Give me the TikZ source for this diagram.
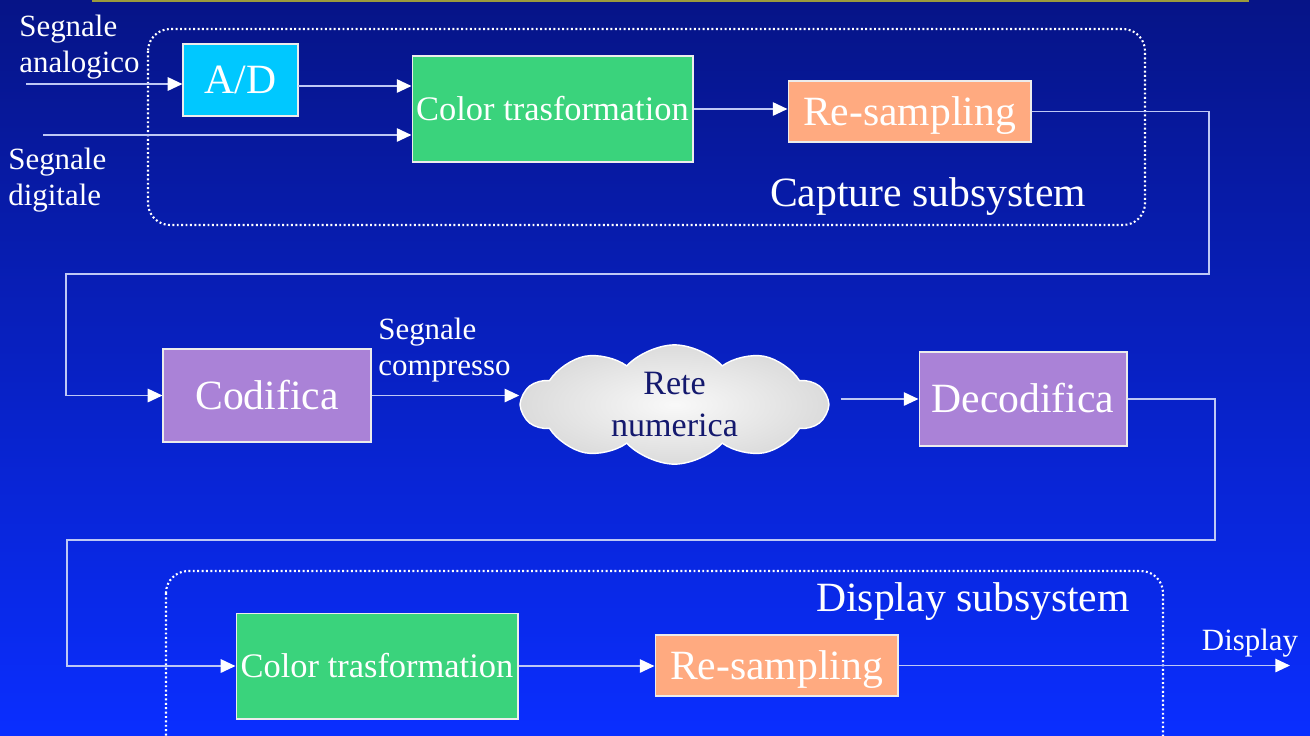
\documentclass[tikz,border=0pt]{standalone}
\usepackage{fontspec}
\setmainfont{Liberation Serif}
\usetikzlibrary{arrows.meta, calc, positioning, shapes.symbols}

\definecolor{sfondoalto}{RGB}{6,20,135}
\definecolor{sfondobasso}{RGB}{10,46,255}
\definecolor{gialla}{RGB}{155,155,60}
\definecolor{ciano}{RGB}{0,200,255}
\definecolor{verde}{RGB}{58,211,124}
\definecolor{salmone}{RGB}{255,170,128}
\definecolor{viola}{RGB}{170,130,215}
\definecolor{linea}{RGB}{190,200,245}
\definecolor{blunotte}{RGB}{20,25,110}

\begin{document}
\begin{tikzpicture}[x=0.02cm, y=-0.02cm,
    blocco/.style={draw=white!85!gray, line width=0.6pt, text=white, inner sep=0pt, text height=15.6pt, text depth=0pt, font=\fontsize{23.7}{28}\selectfont},
    piccolo/.style={text height=12.9pt, font=\fontsize{19.6}{23}\selectfont},
    freccia/.style={draw=linea, line width=1.1pt, -{Triangle[length=8.4pt,width=7.6pt,color=white]}},
    sottosist/.style={draw=white, line width=1.2pt, dash pattern=on 1.1pt off 1.4pt, rounded corners=0.44cm},
    titolo/.style={text=white, inner sep=0pt, text height=15.6pt, text depth=0pt, font=\fontsize{23.7}{28}\selectfont},
    etichetta/.style={text=white, inner sep=0pt, align=left, font=\fontsize{17.6}{20.5}\selectfont}]

    \clip (0,0) rectangle (1310,735);
    \shade[top color=sfondoalto, bottom color=sfondobasso] (0,0) rectangle (1310,735);
    \fill[gialla] (92,0) rectangle (1249,2);

    % capture subsystem
    \node[blocco, fill=ciano, minimum width=2.30cm, minimum height=1.44cm] (ad) at (240.5,80) {A/D};
    \node[blocco, piccolo, fill=verde, minimum width=5.62cm, minimum height=2.12cm] (colcap) at (552.5,109) {Color trasformation};
    \node[blocco, fill=salmone, minimum width=4.86cm, minimum height=1.22cm] (rescap) at (909.5,111.5) {Re-sampling};
    \draw[sottosist] (148,29) rectangle (1145,225);
    \node[titolo] (lcapture) at (928,193) {Capture subsystem};

    % trasmissione
    \node[blocco, fill=viola, minimum width=4.16cm, minimum height=1.86cm] (cod) at (267,395.5) {Codifica};
    \node[cloud, cloud puffs=10, cloud puff arc=95, aspect=2.6, draw=white, line width=0.8pt,
          inner color=gray!5, outer color=gray!28, text=blunotte, align=center, inner sep=0pt,
          minimum width=6.1cm, minimum height=2.34cm, font=\fontsize{19.4}{23.9}\selectfont] (rete) at (674.5,404.5) {Rete\\numerica};
    \node[blocco, fill=viola, minimum width=4.16cm, minimum height=1.88cm] (decod) at (1023,399) {Decodifica};

    % display subsystem
    \node[blocco, piccolo, fill=verde, minimum width=5.64cm, minimum height=2.12cm] (coldisp) at (377,666) {Color trasformation};
    \node[blocco, fill=salmone, minimum width=4.86cm, minimum height=1.22cm] (resdisp) at (776.5,665.5) {Re-sampling};
    \draw[sottosist] (166,571) rectangle (1163,760);
    \node[titolo] (ldispsub) at (973,598) {Display subsystem};

    % etichette
    \node[etichetta, anchor=north west] (lanalog) at (19,15) {Segnale\\analogico};
    \node[etichetta, anchor=north west] (ldigit) at (8,148) {Segnale\\digitale};
    \node[etichetta, anchor=north west] (lcompr) at (378,318) {Segnale\\compresso};
    \node[etichetta, text height=11.6pt, text depth=0pt] (ldisplay) at (1250,640) {Display};

    \coordinate (inA) at (26,84);
    \coordinate (inD) at (43,135);
    \coordinate (uscAD) at (298,86);
    \coordinate (giro1) at (1209,274);
    \coordinate (giro2) at (66,274);
    \coordinate (giro3) at (1215,540);
    \coordinate (giro4) at (67,540);
    \coordinate (outD) at (1290,669);

    \draw[freccia] (inA) -- (inA -| ad.west);
    \draw[freccia] (uscAD) -- (uscAD -| colcap.west);
    \draw[freccia] (inD) -- (inD -| colcap.west);
    \draw[freccia] (colcap.east) -- (colcap.east -| rescap.west);
    \draw[freccia] (rescap.east) -| (giro1) -- (giro2) |- (cod.west);
    \draw[freccia] (cod.east) -- (cod.east -| rete.west);
    \draw[freccia, shorten <=0.22cm] (decod.west -| rete.east) -- (decod.west);
    \draw[freccia] (decod.east) -| (giro3) -- (giro4) |- (coldisp.west);
    \draw[freccia] (coldisp.east) -- (coldisp.east -| resdisp.west);
    \draw[freccia] (resdisp.east) -- (resdisp.east -| outD);
\end{tikzpicture}
\end{document}
